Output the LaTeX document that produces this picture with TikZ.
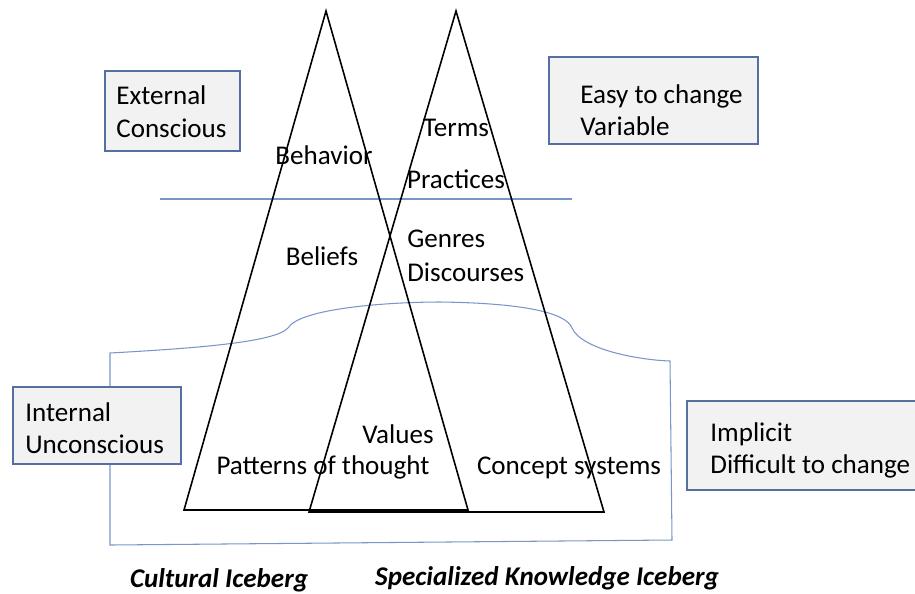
\documentclass[tikz,border=0pt]{standalone}
\usepackage{fontspec}
\setmainfont{Carlito}
\usetikzlibrary{calc}
\definecolor{boxline}{RGB}{84,112,160}
\definecolor{boxfill}{RGB}{242,242,242}
\definecolor{water}{RGB}{120,150,200}

\begin{document}
\begin{tikzpicture}[
  x=0.02cm, y=-0.02cm,
  berg/.style={draw=black, line width=0.9pt, line join=miter},
  waterline/.style={draw=water, line width=0.6pt},
  tagbox/.style={rectangle, draw=boxline, line width=0.9pt, fill=boxfill, anchor=north west, inner sep=0pt},
  tagtext/.style={anchor=west, align=left, inner sep=0pt, font=\fontsize{15.4}{18.4}\selectfont},
  word/.style={inner sep=0pt, font=\fontsize{15.4}{18.4}\selectfont},
  caption/.style={inner sep=0pt, font=\fontsize{15.4}{18.4}\selectfont\bfseries\itshape}
]
  \clip (0,0) rectangle (915,593);
  \useasboundingbox (0,0) rectangle (915,593);

  % --- waterline and submerged outline ---
  \draw[waterline] (160,199) -- (572,199);
  \draw[waterline] (110,545) -- (110,353)
    .. controls (200,348) and (275,342) .. (288,328)
    .. controls (300,308) and (390,302) .. (440,302)
    .. controls (520,303) and (566,312) .. (572,328)
    .. controls (582,350) and (640,360) .. (670,361)
    -- (672,540) -- cycle;

  % --- the two icebergs ---
  \coordinate (culL) at (184,510);
  \coordinate (culT) at (326,11);
  \coordinate (culR) at (468,510);
  \coordinate (speL) at (309,512);
  \coordinate (speT) at (456,11);
  \coordinate (speR) at (604,512);
  \draw[berg] (culL) -- (culT) -- (culR) -- cycle;
  \draw[berg] (speL) -- (speT) -- (speR) -- cycle;

  % --- side boxes ---
  \node[tagbox, minimum width=2.7cm, minimum height=1.6cm] (ext) at (104,70) {};
  \node[tagtext] (extt) at ($(ext.west)+(12,1)$) {External\\Conscious};

  \node[tagbox, minimum width=4.18cm, minimum height=1.74cm] (easy) at (548,56) {};
  \node[tagtext] (easyt) at ($(easy.west)+(32,10)$) {Easy to change\\Variable};

  \node[tagbox, minimum width=3.36cm, minimum height=1.54cm] (int) at (12,386) {};
  \node[tagtext] (intt) at ($(int.west)+(13,3)$) {Internal\\Unconscious};

  \node[tagbox, minimum width=5cm, minimum height=1.78cm] (impl) at (686,400) {};
  \node[tagtext] (implt) at ($(impl.west)+(24,5)$) {Implicit\\Difficult to change};

  % --- layer labels ---
  \node[word] (behav) at (324,155) {Behavior};
  \node[word] (terms) at (456,128) {Terms};
  \node[word] (pract) at (456,179) {Practices};
  \node[word] (belief) at (322,256) {Beliefs};
  \node[word, anchor=west] (genre) at (407,239) {Genres};
  \node[word, anchor=west] (disc) at (407,272) {Discourses};
  \node[word] (values) at (398,434) {Values};
  \node[word] (patt) at (323,467) {Patterns of thought};
  \node[word] (concept) at (569,468) {Concept systems};

  % --- captions ---
  \node[caption] (culcap) at (219,580) {Cultural Iceberg};
  \node[caption] (specap) at (547,578) {Specialized Knowledge Iceberg};
\end{tikzpicture}
\end{document}
